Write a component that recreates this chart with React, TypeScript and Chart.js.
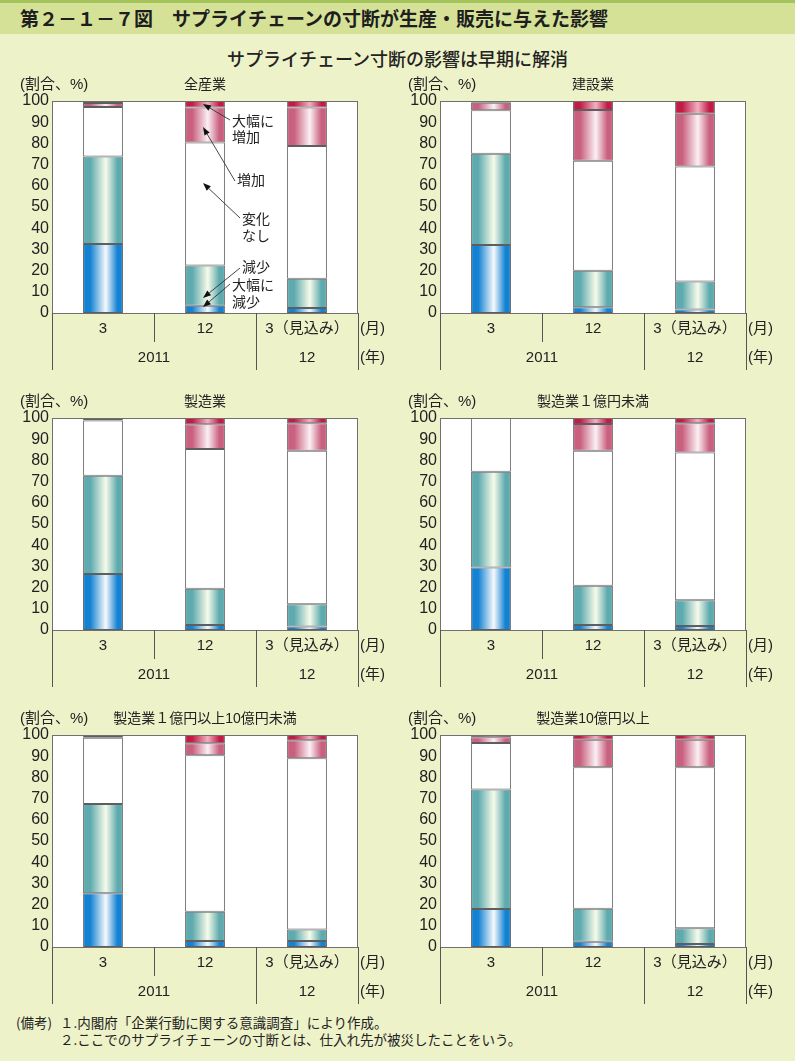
import React, { useEffect, useRef } from 'react';
import { Chart, registerables } from 'chart.js';
Chart.register(...registerables);

// ---------- data ----------
const monthLabels = ['3', '12', '3（見込み）'];
const yearLabels = ['2011', '12'];
const yearSpans = [2, 1];
const panelTitles = ['全産業', '建設業', '製造業', '製造業１億円未満', '製造業１億円以上10億円未満', '製造業10億円以上'];
const seriesNames = ['大幅に減少', '減少', '変化なし', '増加', '大幅に増加'];

const bigDecrease = [
  [32.6, 3.4, 2.4],
  [32.1, 2.7, 1.7],
  [26.4, 2.4, 1.7],
  [29.5, 2.4, 1.9],
  [25.3, 2.8, 2.8],
  [17.9, 2.5, 1.4],
];
const decrease = [
  [41.2, 19.0, 13.7],
  [43.0, 17.2, 13.2],
  [46.4, 17.1, 10.4],
  [45.2, 18.5, 12.1],
  [42.2, 13.8, 5.4],
  [56.4, 15.6, 7.5],
];
const noChange = [
  [23.4, 58.0, 62.7],
  [20.5, 51.9, 54.2],
  [26.0, 65.9, 72.5],
  [25.3, 63.6, 69.7],
  [31.2, 73.8, 80.8],
  [21.9, 66.7, 75.9],
];
const increase = [
  [1.9, 16.5, 18.1],
  [3.6, 24.0, 24.9],
  [0.7, 11.6, 12.9],
  [0, 12.7, 13.8],
  [1.0, 5.7, 8.5],
  [2.7, 13.0, 13.0],
];
const bigIncrease = [
  [0.9, 3.1, 3.1],
  [0.8, 4.2, 6.0],
  [0.5, 3.0, 2.5],
  [0, 2.8, 2.5],
  [0.3, 3.9, 2.5],
  [1.1, 2.2, 2.2],
];
const yTickValues = [0, 10, 20, 30, 40, 50, 60, 70, 80, 90, 100];

// annotations (first panel)
const annotationLabels = [['大幅に', '増加'], ['増加'], ['変化', 'なし'], ['減少'], ['大幅に', '減少']];
const annotationTipValues = [98.6, 87.7, 61.3, 7.1, 2.8];

// ---------- styles / layout ----------
const FONT = '"Liberation Sans", "Noto Sans CJK JP", sans-serif';
const seriesEdge = ['#1482d2', '#5eaaae', '#ffffff', '#c9607f', '#c21c46'];
const seriesMid = ['#f6f9fc', '#f7fbea', '#ffffff', '#fbf0f4', '#f0b0c2'];
const CAT_PCT = 0.39;
const canvasLeft = [0, 388];
const canvasTop = [61, 378, 695];
const annoTextPos = [
  { x: 180, ys: [21, 37] },
  { x: 185, ys: [80] },
  { x: 190, ys: [119, 136] },
  { x: 190, ys: [167] },
  { x: 180, ys: [185, 202] },
];

function barGradient(ctx: any, si: number) {
  const chart = ctx.chart;
  const xs = chart.scales && chart.scales.x;
  if (!xs || !chart.chartArea || si === 2) return seriesEdge[si];
  const c = xs.getPixelForValue(ctx.dataIndex);
  const half = (xs.width / monthLabels.length) * CAT_PCT / 2;
  const g = chart.ctx.createLinearGradient(c - half, 0, c + half, 0);
  g.addColorStop(0, seriesEdge[si]);
  g.addColorStop(0.18, seriesEdge[si]);
  g.addColorStop(0.57, seriesMid[si]);
  g.addColorStop(0.86, seriesEdge[si]);
  g.addColorStop(1, seriesEdge[si]);
  return g;
}

const decorPlugin = {
  id: 'decor',
  beforeDatasetsDraw(chart: any) {
    const { ctx, chartArea: a } = chart;
    ctx.save();
    ctx.fillStyle = '#ffffff';
    ctx.fillRect(a.left, a.top, a.right - a.left, a.bottom - a.top);
    ctx.restore();
  },
  afterDraw(chart: any, _args: any, opts: any) {
    const { ctx, chartArea: a } = chart;
    const xs = chart.scales.x;
    const n = monthLabels.length;
    const catW = (a.right - a.left) / n;
    ctx.save();
    ctx.strokeStyle = '#707070';
    ctx.lineWidth = 1;
    ctx.strokeRect(Math.round(a.left) + 0.5, Math.round(a.top) + 0.5, Math.round(a.right - a.left) - 1, Math.round(a.bottom - a.top));
    ctx.strokeStyle = '#555555';
    const line = (x: number, y1: number, y2: number) => {
      const xx = Math.round(x) + 0.5;
      ctx.beginPath();
      ctx.moveTo(xx, y1);
      ctx.lineTo(xx, y2);
      ctx.stroke();
    };
    const b = a.bottom;
    line(a.left, b, b + 57);
    const yearEnds: number[] = [];
    yearSpans.reduce((acc, s) => { yearEnds.push(acc + s); return acc + s; }, 0);
    for (let i = 1; i < n; i++) {
      const x = a.left + catW * i;
      line(x, b, yearEnds.includes(i) ? b + 57 : b + 29);
    }
    line(a.right, b, b + 57);
    ctx.fillStyle = '#222222';
    ctx.textBaseline = 'middle';
    ctx.textAlign = 'center';
    ctx.font = `15px ${FONT}`;
    monthLabels.forEach((m, i) => {
      ctx.fillText(m, xs.getPixelForValue(i), b + 16);
    });
    let start = 0;
    yearLabels.forEach((y, i) => {
      const s = yearSpans[i];
      const cx = a.left + catW * (start + s / 2);
      ctx.fillText(y, cx, b + 45);
      start += s;
    });
    ctx.textAlign = 'left';
    ctx.fillText('(月)', a.right + 2, b + 16);
    ctx.fillText('(年)', a.right + 2, b + 45);
    ctx.fillText('(割合、%)', a.left - 32, a.top - 16);
    ctx.textAlign = 'center';
    ctx.font = `14px ${FONT}`;
    ctx.fillText(opts.title || '', (a.left + a.right) / 2, a.top - 16);
    if (opts.annotate) {
      const ys = chart.scales.y;
      const tipX = xs.getPixelForValue(1) - 2;
      ctx.textAlign = 'left';
      ctx.font = `14px ${FONT}`;
      annotationLabels.forEach((lines, k) => {
        const p = annoTextPos[k];
        lines.forEach((t, j) => ctx.fillText(t, a.left + p.x, a.top + p.ys[j]));
        const tx = a.left + p.x - 2;
        const ty = a.top + p.ys[0] - 2 + (lines.length === 1 ? 2 : 0);
        const hx = tipX;
        const hy = ys.getPixelForValue(annotationTipValues[k]);
        const ang = Math.atan2(hy - ty, hx - tx);
        const L = 8, W = 3;
        const bx = hx - L * Math.cos(ang), by = hy - L * Math.sin(ang);
        ctx.strokeStyle = '#333';
        ctx.lineWidth = 0.9;
        ctx.beginPath();
        ctx.moveTo(tx, ty);
        ctx.lineTo(bx, by);
        ctx.stroke();
        ctx.fillStyle = '#111';
        ctx.beginPath();
        ctx.moveTo(hx, hy);
        ctx.lineTo(bx + W * Math.sin(ang), by - W * Math.cos(ang));
        ctx.lineTo(bx - W * Math.sin(ang), by + W * Math.cos(ang));
        ctx.closePath();
        ctx.fill();
        ctx.fillStyle = '#222222';
      });
    }
    ctx.restore();
  },
};

function Panel({ idx }: { idx: number }) {
  const ref = useRef<HTMLCanvasElement>(null);
  useEffect(() => {
    if (!ref.current) return;
    const series = [bigDecrease, decrease, noChange, increase, bigIncrease];
    const chart = new Chart(ref.current, {
      type: 'bar',
      data: {
        labels: monthLabels,
        datasets: series.map((arr, si) => ({
          label: seriesNames[si],
          data: arr[idx],
          backgroundColor: (c: any) => barGradient(c, si),
          borderColor: '#5e5e5e',
          borderWidth: 1,
          borderSkipped: false,
          categoryPercentage: CAT_PCT,
          barPercentage: 1,
        })),
      },
      options: {
        responsive: false,
        animation: false,
        devicePixelRatio: 1,
        layout: { padding: { top: 40, right: 42, left: 0, bottom: 0 } },
        plugins: {
          legend: { display: false },
          tooltip: { enabled: false },
          decor: { title: panelTitles[idx], annotate: idx === 0 },
        } as any,
        scales: {
          x: {
            stacked: true,
            grid: { display: false, drawTicks: false },
            border: { display: false },
            ticks: { display: false },
            afterFit: (s: any) => { s.height = 58; },
          },
          y: {
            stacked: true,
            min: yTickValues[0],
            max: yTickValues[yTickValues.length - 1],
            grid: { display: false, drawTicks: false },
            border: { display: false },
            afterBuildTicks: (s: any) => { s.ticks = yTickValues.map((v) => ({ value: v })); },
            ticks: {
              autoSkip: false,
              padding: 3,
              color: '#222222',
              font: { family: FONT, size: 16, lineHeight: 1 },
            },
            afterFit: (s: any) => { s.width = 52; },
          },
        },
      },
      plugins: [decorPlugin],
    } as any);
    return () => chart.destroy();
  }, [idx]);
  return (
    <canvas
      ref={ref}
      width={400}
      height={310}
      style={{ position: 'absolute', left: canvasLeft[idx % 2], top: canvasTop[Math.floor(idx / 2)], width: 400, height: 310 }}
    />
  );
}

export default function App() {
  return (
    <div
      style={{
        position: 'absolute',
        left: 0,
        top: 0,
        width: 795,
        height: 1061,
        background: '#eef2c9',
        overflow: 'hidden',
        fontFamily: FONT,
        color: '#222',
      }}
    >
      <div style={{ position: 'absolute', left: 0, top: 0, width: 795, height: 3, background: '#a3c45a' }} />
      <div style={{ position: 'absolute', left: 0, top: 3, width: 795, height: 31, background: '#d5e197' }} />
      <div
        style={{
          position: 'absolute',
          left: 20,
          top: 8,
          fontSize: 19,
          lineHeight: '20px',
          fontWeight: 700,
          fontFamily: '"Noto Sans CJK JP", sans-serif',
          whiteSpace: 'nowrap',
          color: '#1e1e1e',
        }}
      >
        第２－１－７図　サプライチェーンの寸断が生産・販売に与えた影響
      </div>
      <div
        style={{
          position: 'absolute',
          left: 0,
          top: 48,
          width: 795,
          textAlign: 'center',
          fontSize: 18,
          lineHeight: '20px',
          fontWeight: 500,
          fontFamily: '"Noto Sans CJK JP", sans-serif',
          whiteSpace: 'nowrap',
        }}
      >
        サプライチェーン寸断の影響は早期に解消
      </div>
      {[0, 1, 2, 3, 4, 5].map((i) => (
        <Panel key={i} idx={i} />
      ))}
      <div style={{ position: 'absolute', left: 16, top: 1013, fontSize: 13.5, lineHeight: '18px', fontFamily: '"Noto Sans CJK JP", sans-serif', whiteSpace: 'nowrap' }}>
        (備考)
      </div>
      <div style={{ position: 'absolute', left: 60, top: 1013, fontSize: 13.5, lineHeight: '18px', fontFamily: '"Noto Sans CJK JP", sans-serif', whiteSpace: 'nowrap' }}>
        １.内閣府「企業行動に関する意識調査」により作成。
      </div>
      <div style={{ position: 'absolute', left: 60, top: 1030, fontSize: 13.5, lineHeight: '18px', fontFamily: '"Noto Sans CJK JP", sans-serif', whiteSpace: 'nowrap' }}>
        ２.ここでのサプライチェーンの寸断とは、仕入れ先が被災したことをいう。
      </div>
    </div>
  );
}
